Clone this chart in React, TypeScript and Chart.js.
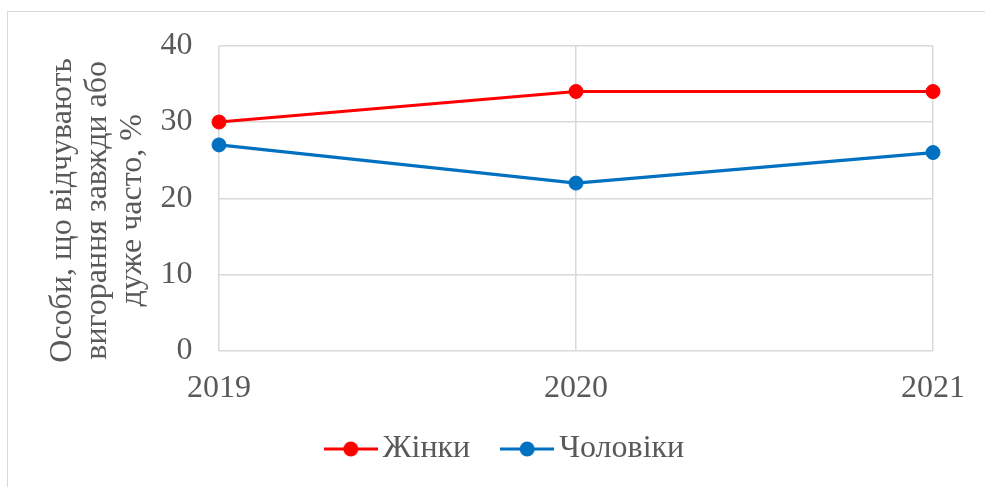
import React, { useEffect, useRef } from "react";
import { Chart, registerables } from "chart.js";

Chart.register(...registerables);

const years = ["2019", "2020", "2021"];
const women = [30, 34, 34];
const men = [27, 22, 26];
const seriesNames = ["Жінки", "Чоловіки"];
const seriesColors = ["#FF0000", "#0070C0"];
const yTitleLines = ["Особи, що відчувають", "вигорання завжди або", "дуже часто, %"];
const yMin = 0;
const yMax = 40;
const yStep = 10;

const FONT = "'Liberation Serif', 'Times New Roman', serif";
const TEXT = "#595959";
const GRID = "#d9d9d9";

function makeIcon(color: string): HTMLCanvasElement {
  const c = document.createElement("canvas");
  c.width = 54;
  c.height = 16;
  const ctx = c.getContext("2d")!;
  ctx.strokeStyle = color;
  ctx.lineWidth = 3;
  ctx.beginPath();
  ctx.moveTo(0, 8);
  ctx.lineTo(54, 8);
  ctx.stroke();
  ctx.fillStyle = color;
  ctx.beginPath();
  ctx.arc(27, 8, 7.5, 0, Math.PI * 2);
  ctx.fill();
  return c;
}

export default function App() {
  const ref = useRef<HTMLCanvasElement>(null);

  useEffect(() => {
    if (!ref.current) return;
    const icons = seriesColors.map(makeIcon);
    const values = [women, men];
    const chart = new Chart(ref.current, {
      type: "line",
      data: {
        labels: years,
        datasets: seriesNames.map((name, i) => ({
          label: name,
          data: values[i],
          borderColor: seriesColors[i],
          backgroundColor: seriesColors[i],
          pointBackgroundColor: seriesColors[i],
          pointBorderColor: seriesColors[i],
          borderWidth: 3.2,
          pointRadius: 7,
          pointBorderWidth: 1,
          tension: 0,
          fill: false,
        })),
      },
      options: {
        animation: false,
        responsive: true,
        maintainAspectRatio: false,
        layout: { padding: { left: 86, right: 52, top: 43, bottom: 12 } },
        plugins: {
          tooltip: { enabled: false },
          legend: {
            position: "bottom",
            labels: {
              usePointStyle: true,
              pointStyleWidth: 32,
              padding: 25,
              color: TEXT,
              font: { family: FONT, size: 32 },
              generateLabels: (ch: any) => {
                const items = (Chart.defaults.plugins.legend.labels as any).generateLabels(ch);
                return items.map((l: any, i: number) => ({
                  ...l,
                  text: i < items.length - 1 ? l.text + "  " : l.text,
                  pointStyle: icons[i],
                }));
              },
            },
          },
        },
        scales: {
          x: {
            type: "category",
            offset: false,
            grid: { color: GRID, lineWidth: 1.5, drawTicks: false, offset: false },
            border: { display: false },
            ticks: {
              color: TEXT,
              padding: 18.6,
              maxRotation: 0,
              font: { family: FONT, size: 32 },
            },
            afterFit: (s: any) => {
              s.height = 57;
            },
          },
          y: {
            min: yMin,
            max: yMax,
            ticks: {
              stepSize: yStep,
              color: TEXT,
              padding: 26.5,
              font: { family: FONT, size: 32 },
            },
            grid: { color: GRID, lineWidth: 1.5, drawTicks: false },
            border: { display: false },
            title: {
              display: true,
              text: yTitleLines.map((s) => s + "   "),
              color: TEXT,
              font: { family: FONT, size: 32, lineHeight: "35px" as any },
              padding: { top: -40.5, bottom: 0 },
            },
            afterFit: (s: any) => {
              s.width = 133;
            },
          },
        },
      } as any,
    });
    return () => chart.destroy();
  }, []);

  return (
    <div
      style={{
        position: "fixed",
        left: 0,
        top: 0,
        width: 985,
        height: 487,
        overflow: "hidden",
        background: "#fff",
      }}
    >
      <div
        style={{
          position: "absolute",
          left: 7,
          top: 11,
          width: 1100,
          height: 1100,
          border: "1.5px solid #d9d9d9",
        }}
      />
      <div style={{ position: "absolute", left: 0, top: 0, width: 985, height: 487 }}>
        <canvas ref={ref} />
      </div>
    </div>
  );
}
